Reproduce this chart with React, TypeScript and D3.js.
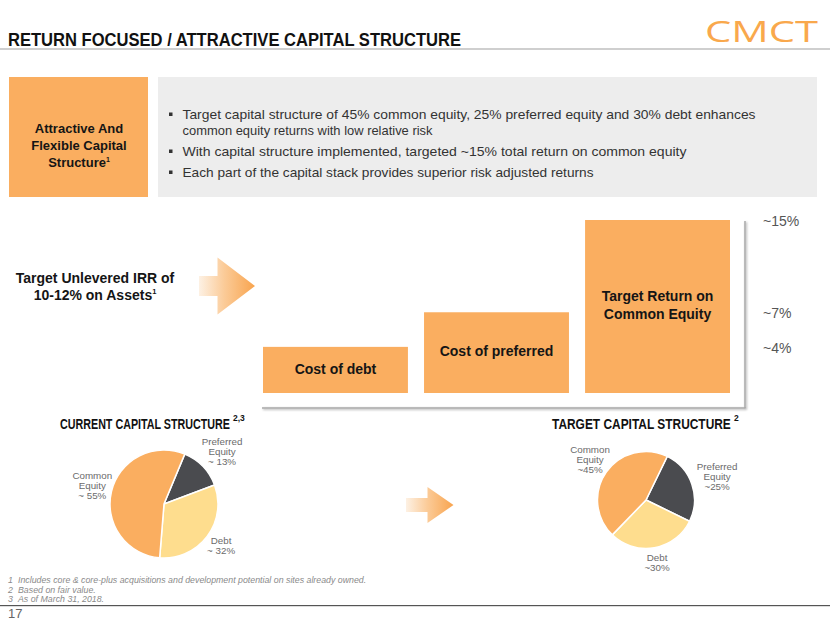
import React, { useLayoutEffect, useRef, useState } from "react";
import * as d3 from "d3";

// ---------- data ----------
const barCategories = ["debt", "preferred", "common"];
const barLabelLines = [["Cost of debt"], ["Cost of preferred"], ["Target Return on", "Common Equity"]];
const barValues = [4, 7, 15];
const tickValues = [15, 7, 4];
const tickLabels = ["~15%", "~7%", "~4%"];

const currentSlices = ["Preferred", "Debt", "Common"];
const currentValues = [13, 32, 55];
const currentLabels = [["Preferred", "Equity", "~ 13%"], ["Debt", "~ 32%"], ["Common", "Equity", "~ 55%"]];

const targetSlices = ["Preferred", "Debt", "Common"];
const targetValues = [25, 30, 45];
const targetLabels = [["Preferred", "Equity", "~25%"], ["Debt", "~30%"], ["Common", "Equity", "~45%"]];

const bullets = [
  ["Target capital structure of 45% common equity, 25% preferred equity and 30% debt enhances", "common equity returns with low relative risk"],
  ["With capital structure implemented, targeted ~15% total return on common equity"],
  ["Each part of the capital stack provides superior risk adjusted returns"],
];
const bulletWidths = [[573, 250], [504], [411]];

const footnotes = [
  ["1", "Includes core & core-plus acquisitions and development potential on sites already owned."],
  ["2", "Based on fair value."],
  ["3", "As of March 31, 2018."],
];

// ---------- styles ----------
const ORANGE = "#FAAE60";
const DARK = "#4A4B4F";
const YELLOW = "#FEDD8E";
const sliceColor: Record<string, string> = { Preferred: DARK, Debt: YELLOW, Common: ORANGE };
const FONT = "'Liberation Sans', Arial, sans-serif";

function FitText({ x, y, width, fontSize, children }: any) {
  const ref = useRef<SVGTextElement>(null);
  const [sx, setSx] = useState(1);
  useLayoutEffect(() => {
    if (ref.current) {
      const len = ref.current.getComputedTextLength();
      if (len > 0) setSx(width / len);
    }
  }, [width]);
  return (
    <text ref={ref} transform={`translate(${x},${y}) scale(${sx},1)`} fontSize={fontSize} fontWeight="bold" fill="#111">
      {children}
    </text>
  );
}

function Pie({ cx, cy, r, slices, values, labels, startDeg }: any) {
  const pie = d3
    .pie<number>()
    .sort(null)
    .startAngle((startDeg * Math.PI) / 180)
    .endAngle((startDeg * Math.PI) / 180 + 2 * Math.PI);
  const arcs = pie(values);
  const arc = d3.arc<any>().innerRadius(0).outerRadius(r);
  const lh = 9.8;
  return (
    <g transform={`translate(${cx},${cy})`}>
      {arcs.map((a, i) => (
        <path key={i} d={arc(a) as string} fill={sliceColor[slices[i]]} stroke="#fff" strokeWidth={1.5} />
      ))}
      {arcs.map((a, i) => {
        const mid = (a.startAngle + a.endAngle) / 2;
        const s = Math.sin(mid);
        const c = Math.cos(mid);
        const lines: string[] = labels[i];
        const w = d3.max(lines, (l) => l.length * 4.6) as number;
        const h = lines.length * lh;
        const ax = s * (r + 6);
        const ay = -c * (r + 6);
        const bx = ax + (s * w) / 2;
        const by = ay - (c * h) / 2;
        return (
          <text key={"l" + i} x={bx} textAnchor="middle" fontSize={9.8} fill="#6b6b6b" fontFamily={FONT}>
            {lines.map((l, j) => (
              <tspan key={j} x={bx} y={by - h / 2 + lh * (j + 0.5)} dominantBaseline="middle">
                {l}
              </tspan>
            ))}
          </text>
        );
      })}
    </g>
  );
}

function Arrow({ x0, y0, shaftW, headL, shaftH, headH, id }: any) {
  const cy = y0;
  const d = [
    [x0, cy - shaftH / 2],
    [x0 + shaftW, cy - shaftH / 2],
    [x0 + shaftW, cy - headH / 2],
    [x0 + shaftW + headL, cy],
    [x0 + shaftW, cy + headH / 2],
    [x0 + shaftW, cy + shaftH / 2],
    [x0, cy + shaftH / 2],
  ];
  return (
    <g>
      <defs>
        <linearGradient id={id} x1={x0} x2={x0 + shaftW + headL} y1={0} y2={0} gradientUnits="userSpaceOnUse">
          <stop offset="0" stopColor="#FDF1E4" />
          <stop offset="0.45" stopColor="#FBCB98" />
          <stop offset="1" stopColor="#F8A44E" />
        </linearGradient>
      </defs>
      <path d={"M" + d.map((p) => p.join(",")).join("L") + "Z"} fill={`url(#${id})`} />
    </g>
  );
}

export default function App() {
  const x = d3.scaleBand<string>().domain(barCategories).range([263, 730]).paddingInner(0.1).paddingOuter(0);
  const y = d3.scaleLinear().domain([0, 15]).range([393, 220]);

  return (
    <svg width={830} height={623} style={{ position: "absolute", left: 0, top: 0, background: "#fff" }} fontFamily={FONT}>
      <defs>
        <filter id="sh" x="-10%" y="-10%" width="120%" height="120%">
          <feDropShadow dx="1" dy="1" stdDeviation="0.8" floodColor="#000" floodOpacity="0.35" />
        </filter>
      </defs>
      {/* header */}
      <text x={8} y={46} fontSize={18} fontWeight="bold" fill="#111" textLength={453} lengthAdjust="spacingAndGlyphs"
        fontFamily="'Liberation Sans Narrow', 'Liberation Sans', Arial, sans-serif">
        RETURN FOCUSED / ATTRACTIVE CAPITAL STRUCTURE
      </text>
      <text x={705} y={42} fontSize={30} fill="#F9A84C" textLength={113} lengthAdjust="spacingAndGlyphs"
        fontFamily="'Open Sans', 'Liberation Sans', sans-serif" fontWeight={400}>
        CMCT
      </text>
      <rect x={0} y={48} width={830} height={2} fill="#CFCFCF" />

      {/* top boxes */}
      <rect x={9} y={77} width={139} height={120} fill={ORANGE} />
      <rect x={158} y={77} width={659} height={120} fill="#EDEDED" />
      <text textAnchor="middle" fontSize={13} fontWeight="bold" fill="#151515">
        <tspan x={79} y={133}>Attractive And</tspan>
        <tspan x={79} y={150}>Flexible Capital</tspan>
        <tspan x={79} y={167}>Structure<tspan fontSize={7} dy={-5}>1</tspan></tspan>
      </text>
      {(() => {
        const rows: JSX.Element[] = [];
        const ys = [[115, 131], [152], [173]];
        bullets.forEach((b, i) => {
          rows.push(<rect key={"b" + i} x={169} y={ys[i][0] - 2.5} width={3.5} height={3.5} fill="#333" />);
          b.forEach((line, j) => {
            rows.push(
              <text key={`t${i}${j}`} x={182.5} y={ys[i][j]} dominantBaseline="middle" fontSize={13.5} fill="#333"
                textLength={bulletWidths[i][j]} lengthAdjust="spacingAndGlyphs">
                {line}
              </text>
            );
          });
        });
        return rows;
      })()}

      {/* left label + arrow */}
      <text textAnchor="middle" fontSize={14} fontWeight="bold" fill="#151515">
        <tspan x={95} y={283}>Target Unlevered IRR of</tspan>
        <tspan x={95} y={300}>10-12% on Assets<tspan fontSize={7.5} dy={-6}>1</tspan></tspan>
      </text>
      <Arrow id="g1" x0={199} y0={286} shaftW={18.5} headL={37.5} shaftH={20} headH={57} />

      {/* bars */}
      {barCategories.map((c, i) => {
        const bx = x(c) as number;
        const top = y(barValues[i]);
        const mid = (top + y(0)) / 2;
        const lines = barLabelLines[i];
        return (
          <g key={c}>
            <rect x={bx} y={top} width={x.bandwidth()} height={y(0) - top} fill={ORANGE} />
            <text textAnchor="middle" fontSize={14} fontWeight="bold" fill="#151515">
              {lines.map((l, j) => (
                <tspan key={j} x={bx + x.bandwidth() / 2} y={mid + (j - (lines.length - 1) / 2) * 17.5} dominantBaseline="middle">
                  {l}
                </tspan>
              ))}
            </text>
          </g>
        );
      })}
      {/* frame */}
      <g filter="url(#sh)">
        <line x1={745} x2={745} y1={221} y2={408} stroke="#A8A8A8" strokeWidth={1.5} />
        <line x1={262} x2={745.75} y1={408} y2={408} stroke="#A8A8A8" strokeWidth={1.5} />
      </g>
      {tickValues.map((v, i) => (
        <text key={v} x={763} y={y(v) + 2} dominantBaseline="middle" fontSize={14} fill="#555">
          {tickLabels[i]}
        </text>
      ))}

      {/* pie titles */}
      <FitText x={60} y={429} width={170} fontSize={14}>CURRENT CAPITAL STRUCTURE</FitText>
      <text x={233} y={421} fontSize={8.5} fontWeight="bold" fill="#111">2,3</text>
      <FitText x={552} y={429} width={179} fontSize={14.5}>TARGET CAPITAL STRUCTURE</FitText>
      <text x={734} y={421} fontSize={8.5} fontWeight="bold" fill="#111">2</text>

      <Pie cx={164} cy={504} r={54} slices={currentSlices} values={currentValues} labels={currentLabels} startDeg={22.6} />
      <Arrow id="g2" x0={406} y0={505} shaftW={21.5} headL={26} shaftH={14} headH={36} />
      <Pie cx={646} cy={500} r={48.5} slices={targetSlices} values={targetValues} labels={targetLabels} startDeg={26} />

      {/* footnotes */}
      {footnotes.map((f, i) => (
        <g key={i} fontSize={8.8} fontStyle="italic" fill="#8a8a8a">
          <text x={8} y={581 + i * 9.4} dominantBaseline="middle">{f[0]}</text>
          <text x={18} y={581 + i * 9.4} dominantBaseline="middle">{f[1]}</text>
        </g>
      ))}
      <rect x={0} y={605} width={830} height={1.2} fill="#555" />
      <text x={8} y={615} dominantBaseline="middle" fontSize={13} fill="#666">17</text>
    </svg>
  );
}
